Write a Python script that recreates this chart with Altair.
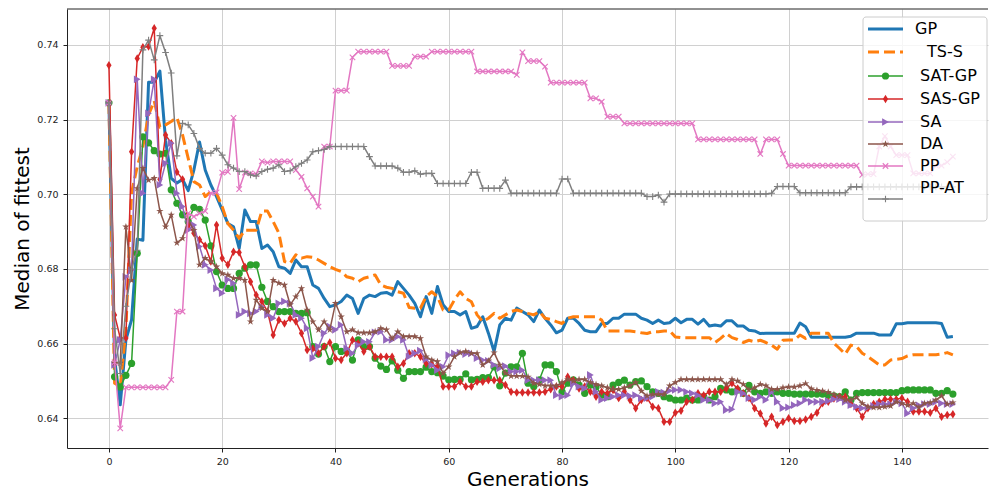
import math

import altair as alt
import pandas as pd

# ---------------------------------------------------------------------------
# Median fitness of the best individual per generation, one list per method
# ---------------------------------------------------------------------------
generations = list(range(150))
series_names = ["GP", "TS-S", "SAT-GP", "SAS-GP", "SA", "DA", "PP", "PP-AT"]

gp = [
    0.7245, 0.6560, 0.6436, 0.6610, 0.6664, 0.6880, 0.6877, 0.7300, 0.7300, 0.7330,
    0.7145, 0.7043, 0.7030, 0.7040, 0.7010, 0.7065, 0.7140, 0.7065, 0.7025, 0.6994,
    0.6958, 0.6922, 0.6913, 0.6855, 0.6958, 0.6927, 0.6927, 0.6855, 0.6864, 0.6846,
    0.6806, 0.6802, 0.6788, 0.6824, 0.6806, 0.6806, 0.6757, 0.6748, 0.6721, 0.6699,
    0.6704, 0.6713, 0.6730, 0.6721, 0.6681, 0.6721, 0.6730, 0.6726, 0.6735, 0.6737,
    0.6730, 0.6766, 0.6748, 0.6730, 0.6708, 0.6672, 0.6726, 0.6681, 0.6753, 0.6704,
    0.6686, 0.6686, 0.6677, 0.6686, 0.6641, 0.6646, 0.6672, 0.6628, 0.6579, 0.6650,
    0.6668, 0.6663, 0.6695, 0.6686, 0.6677, 0.6659, 0.6690, 0.6668, 0.6650, 0.6629,
    0.6636, 0.6668, 0.6668, 0.6654, 0.6636, 0.6632, 0.6632, 0.6654, 0.6654, 0.6668,
    0.6668, 0.6679, 0.6679, 0.6679, 0.6668, 0.6663, 0.6654, 0.6663, 0.6654, 0.6656,
    0.6668, 0.6656, 0.6665, 0.6665, 0.6652, 0.6665, 0.6647, 0.6650, 0.6647, 0.6661,
    0.6661, 0.6647, 0.6647, 0.6636, 0.6634, 0.6627, 0.6628, 0.6628, 0.6628, 0.6628,
    0.6628, 0.6628, 0.6655, 0.6645, 0.6617, 0.6617, 0.6617, 0.6617, 0.6617, 0.6617,
    0.6617, 0.6620, 0.6628, 0.6628, 0.6628, 0.6628, 0.6623, 0.6623, 0.6623, 0.6653,
    0.6653, 0.6656, 0.6656, 0.6656, 0.6656, 0.6656, 0.6656, 0.6654, 0.6617, 0.6619,
]

ts_s = [
    0.7245, 0.6494, 0.6485, 0.6640, 0.7004, 0.7074, 0.7128, 0.7213, 0.7250, 0.7180,
    0.7186, 0.7195, 0.7206, 0.7159, 0.7096, 0.7034, 0.7025, 0.6994, 0.7007, 0.7003,
    0.6967, 0.6922, 0.6904, 0.6882, 0.6904, 0.6904, 0.6904, 0.6955, 0.6955, 0.6927,
    0.6896, 0.6820, 0.6815, 0.6838, 0.6829, 0.6833, 0.6831, 0.6824, 0.6815, 0.6806,
    0.6799, 0.6793, 0.6779, 0.6775, 0.6766, 0.6775, 0.6779, 0.6784, 0.6757, 0.6751,
    0.6748, 0.6739, 0.6735, 0.6697, 0.6695, 0.6695, 0.6726, 0.6739, 0.6726, 0.6690,
    0.6690, 0.6717, 0.6739, 0.6721, 0.6712, 0.6677, 0.6659, 0.6668, 0.6681, 0.6668,
    0.6677, 0.6686, 0.6690, 0.6686, 0.6681, 0.6677, 0.6686, 0.6668, 0.6665, 0.6659,
    0.6654, 0.6668, 0.6672, 0.6672, 0.6672, 0.6672, 0.6672, 0.6663, 0.6634, 0.6634,
    0.6634, 0.6634, 0.6634, 0.6632, 0.6629, 0.6627, 0.6632, 0.6632, 0.6634, 0.6634,
    0.6618, 0.6616, 0.6616, 0.6616, 0.6616, 0.6616, 0.6616, 0.6603, 0.6614, 0.6627,
    0.6616, 0.6611, 0.6603, 0.6609, 0.6605, 0.6609, 0.6603, 0.6596, 0.6585, 0.6609,
    0.6610, 0.6610, 0.6623, 0.6614, 0.6628, 0.6628, 0.6628, 0.6628, 0.6601, 0.6587,
    0.6572, 0.6596, 0.6592, 0.6574, 0.6565, 0.6554, 0.6543, 0.6543, 0.6556, 0.6558,
    0.6560, 0.6567, 0.6570, 0.6570, 0.6570, 0.6570, 0.6570, 0.6572, 0.6576, 0.6570,
]

sat_gp = [
    0.7245, 0.6511, 0.6484, 0.6515, 0.6547, 0.6842, 0.7154, 0.7138, 0.7117, 0.7108,
    0.7110, 0.7012, 0.6976, 0.6945, 0.6927, 0.6965, 0.6960, 0.6931, 0.6862, 0.6793,
    0.6757, 0.6748, 0.6748, 0.6788, 0.6802, 0.6811, 0.6811, 0.6751, 0.6713, 0.6699,
    0.6686, 0.6686, 0.6686, 0.6681, 0.6681, 0.6683, 0.6592, 0.6572, 0.6592, 0.6552,
    0.6592, 0.6579, 0.6579, 0.6556, 0.6610, 0.6592, 0.6592, 0.6561, 0.6540, 0.6531,
    0.6554, 0.6529, 0.6507, 0.6525, 0.6525, 0.6525, 0.6537, 0.6525, 0.6522, 0.6513,
    0.6503, 0.6504, 0.6504, 0.6519, 0.6503, 0.6504, 0.6509, 0.6509, 0.6538, 0.6487,
    0.6521, 0.6538, 0.6538, 0.6574, 0.6494, 0.6485, 0.6503, 0.6543, 0.6543, 0.6525,
    0.6471, 0.6494, 0.6503, 0.6489, 0.6467, 0.6489, 0.6485, 0.6462, 0.6458, 0.6489,
    0.6496, 0.6502, 0.6489, 0.6498, 0.6500, 0.6485, 0.6471, 0.6467, 0.6458, 0.6454,
    0.6449, 0.6449, 0.6454, 0.6449, 0.6449, 0.6458, 0.6449, 0.6458, 0.6480, 0.6476,
    0.6471, 0.6476, 0.6467, 0.6488, 0.6471, 0.6467, 0.6471, 0.6467, 0.6471, 0.6467,
    0.6467, 0.6465, 0.6465, 0.6465, 0.6465, 0.6465, 0.6465, 0.6462, 0.6460, 0.6458,
    0.6471, 0.6449, 0.6467, 0.6469, 0.6469, 0.6469, 0.6469, 0.6469, 0.6469, 0.6469,
    0.6474, 0.6476, 0.6476, 0.6476, 0.6476, 0.6476, 0.6467, 0.6467, 0.6474, 0.6465,
]

sas_gp = [
    0.7346, 0.6677, 0.6615, 0.6615, 0.7114, 0.7364, 0.7394, 0.7396, 0.7445, 0.7040,
    0.7159, 0.7137, 0.7060, 0.7040, 0.6918, 0.6896, 0.6878, 0.6862, 0.6820, 0.6918,
    0.6829, 0.6811, 0.6846, 0.6844, 0.6806, 0.6766, 0.6730, 0.6713, 0.6686, 0.6623,
    0.6663, 0.6654, 0.6668, 0.6659, 0.6628, 0.6583, 0.6587, 0.6574, 0.6592, 0.6603,
    0.6561, 0.6556, 0.6574, 0.6610, 0.6601, 0.6579, 0.6592, 0.6565, 0.6565, 0.6565,
    0.6565, 0.6538, 0.6547, 0.6574, 0.6574, 0.6565, 0.6547, 0.6545, 0.6538, 0.6485,
    0.6485, 0.6485, 0.6498, 0.6485, 0.6485, 0.6498, 0.6498, 0.6502, 0.6502, 0.6502,
    0.6489, 0.6471, 0.6469, 0.6469, 0.6469, 0.6469, 0.6469, 0.6471, 0.6478, 0.6485,
    0.6485, 0.6511, 0.6502, 0.6480, 0.6485, 0.6471, 0.6458, 0.6471, 0.6467, 0.6476,
    0.6454, 0.6471, 0.6449, 0.6427, 0.6449, 0.6454, 0.6431, 0.6427, 0.6391, 0.6391,
    0.6415, 0.6420, 0.6444, 0.6449, 0.6467, 0.6462, 0.6471, 0.6471, 0.6471, 0.6480,
    0.6494, 0.6480, 0.6467, 0.6454, 0.6427, 0.6413, 0.6386, 0.6404, 0.6382, 0.6391,
    0.6400, 0.6393, 0.6393, 0.6397, 0.6404, 0.6415, 0.6440, 0.6444, 0.6453, 0.6458,
    0.6458, 0.6438, 0.6427, 0.6404, 0.6427, 0.6438, 0.6444, 0.6451, 0.6451, 0.6451,
    0.6454, 0.6444, 0.6418, 0.6418, 0.6418, 0.6415, 0.6427, 0.6404, 0.6409, 0.6411,
]

sa = [
    0.7245, 0.6543, 0.6610, 0.6779, 0.6797, 0.7308, 0.7003, 0.7217, 0.7308, 0.7025,
    0.7083, 0.7137, 0.7003, 0.6967, 0.6904, 0.6918, 0.6860, 0.6811, 0.6797, 0.6748,
    0.6735, 0.6772, 0.6762, 0.6677, 0.6686, 0.6681, 0.6686, 0.6699, 0.6677, 0.6668,
    0.6708, 0.6713, 0.6708, 0.6677, 0.6668, 0.6641, 0.6561, 0.6592, 0.6628, 0.6646,
    0.6637, 0.6650, 0.6587, 0.6574, 0.6596, 0.6605, 0.6605, 0.6630, 0.6632, 0.6610,
    0.6610, 0.6619, 0.6610, 0.6565, 0.6574, 0.6581, 0.6558, 0.6543, 0.6529, 0.6538,
    0.6569, 0.6574, 0.6576, 0.6572, 0.6574, 0.6561, 0.6556, 0.6554, 0.6543, 0.6534,
    0.6540, 0.6525, 0.6525, 0.6529, 0.6502, 0.6502, 0.6502, 0.6502, 0.6502, 0.6462,
    0.6458, 0.6462, 0.6493, 0.6485, 0.6480, 0.6516, 0.6471, 0.6449, 0.6454, 0.6458,
    0.6462, 0.6462, 0.6460, 0.6462, 0.6454, 0.6454, 0.6458, 0.6471, 0.6469, 0.6474,
    0.6476, 0.6476, 0.6471, 0.6467, 0.6462, 0.6449, 0.6449, 0.6440, 0.6444, 0.6422,
    0.6424, 0.6471, 0.6467, 0.6454, 0.6449, 0.6458, 0.6449, 0.6471, 0.6444, 0.6427,
    0.6429, 0.6435, 0.6440, 0.6449, 0.6444, 0.6444, 0.6444, 0.6446, 0.6451, 0.6451,
    0.6444, 0.6435, 0.6431, 0.6427, 0.6429, 0.6433, 0.6438, 0.6438, 0.6438, 0.6444,
    0.6440, 0.6413, 0.6427, 0.6435, 0.6438, 0.6438, 0.6444, 0.6440, 0.6438, 0.6438,
]

da = [
    0.7245, 0.6548, 0.6548, 0.6913, 0.6770, 0.7016, 0.7070, 0.7038, 0.7043, 0.6955,
    0.6913, 0.6945, 0.6870, 0.6882, 0.6931, 0.6904, 0.6811, 0.6829, 0.6820, 0.6806,
    0.6788, 0.6784, 0.6775, 0.6775, 0.6770, 0.6659, 0.6717, 0.6695, 0.6686, 0.6770,
    0.6762, 0.6757, 0.6704, 0.6726, 0.6748, 0.6690, 0.6659, 0.6637, 0.6659, 0.6637,
    0.6708, 0.6672, 0.6632, 0.6637, 0.6629, 0.6629, 0.6629, 0.6632, 0.6641, 0.6637,
    0.6614, 0.6632, 0.6619, 0.6619, 0.6619, 0.6614, 0.6565, 0.6556, 0.6552, 0.6521,
    0.6538, 0.6565, 0.6576, 0.6579, 0.6574, 0.6574, 0.6543, 0.6554, 0.6576, 0.6543,
    0.6521, 0.6513, 0.6513, 0.6513, 0.6511, 0.6494, 0.6491, 0.6487, 0.6487, 0.6487,
    0.6496, 0.6504, 0.6500, 0.6504, 0.6504, 0.6496, 0.6491, 0.6487, 0.6482, 0.6478,
    0.6478, 0.6482, 0.6487, 0.6496, 0.6473, 0.6460, 0.6464, 0.6464, 0.6464, 0.6487,
    0.6496, 0.6504, 0.6504, 0.6504, 0.6504, 0.6504, 0.6504, 0.6504, 0.6504, 0.6491,
    0.6504, 0.6500, 0.6491, 0.6476, 0.6482, 0.6491, 0.6487, 0.6478, 0.6478, 0.6482,
    0.6484, 0.6484, 0.6487, 0.6493, 0.6479, 0.6475, 0.6473, 0.6470, 0.6464, 0.6458,
    0.6449, 0.6449, 0.6456, 0.6440, 0.6431, 0.6429, 0.6429, 0.6431, 0.6433, 0.6444,
    0.6440, 0.6435, 0.6440, 0.6429, 0.6440, 0.6442, 0.6449, 0.6460, 0.6438, 0.6442,
]

pp = [
    0.7245, 0.6550, 0.6373, 0.6483, 0.6483, 0.6483, 0.6483, 0.6483, 0.6483, 0.6483,
    0.6483, 0.6503, 0.6686, 0.6686, 0.6949, 0.6940, 0.6949, 0.6955, 0.7003, 0.7005,
    0.7058, 0.7060, 0.7205, 0.7014, 0.7058, 0.7056, 0.7054, 0.7088, 0.7085, 0.7088,
    0.7088, 0.7088, 0.7088, 0.7065, 0.7047, 0.7016, 0.6994, 0.6967, 0.7128, 0.7128,
    0.7278, 0.7278, 0.7278, 0.7367, 0.7382, 0.7382, 0.7382, 0.7382, 0.7382, 0.7382,
    0.7344, 0.7344, 0.7344, 0.7344, 0.7369, 0.7369, 0.7369, 0.7382, 0.7382, 0.7382,
    0.7382, 0.7382, 0.7382, 0.7382, 0.7382, 0.7329, 0.7329, 0.7329, 0.7329, 0.7329,
    0.7329, 0.7329, 0.7320, 0.7380, 0.7357, 0.7357, 0.7357, 0.7342, 0.7299, 0.7299,
    0.7299, 0.7299, 0.7299, 0.7299, 0.7299, 0.7257, 0.7257, 0.7248, 0.7208, 0.7208,
    0.7208, 0.7190, 0.7190, 0.7190, 0.7190, 0.7190, 0.7190, 0.7190, 0.7190, 0.7190,
    0.7190, 0.7190, 0.7190, 0.7190, 0.7147, 0.7147, 0.7147, 0.7147, 0.7147, 0.7147,
    0.7147, 0.7147, 0.7147, 0.7147, 0.7147, 0.7108, 0.7147, 0.7147, 0.7147, 0.7108,
    0.7077, 0.7077, 0.7077, 0.7077, 0.7077, 0.7077, 0.7077, 0.7077, 0.7077, 0.7077,
    0.7077, 0.7077, 0.7077, 0.7052, 0.7054, 0.7054, 0.7128, 0.7156, 0.7128, 0.7105,
    0.7105, 0.7105, 0.7056, 0.7056, 0.7056, 0.7056, 0.7077, 0.7077, 0.7086, 0.7101,
]

pp_at = [
    0.7245, 0.6640, 0.6520, 0.6700, 0.6800, 0.6850, 0.7387, 0.7413, 0.7360, 0.7425,
    0.7380, 0.7325, 0.7103, 0.7190, 0.7186, 0.7163, 0.7123, 0.7110, 0.7110, 0.7123,
    0.7105, 0.7079, 0.7070, 0.7061, 0.7061, 0.7052, 0.7049, 0.7061, 0.7067, 0.7070,
    0.7079, 0.7061, 0.7063, 0.7074, 0.7083, 0.7092, 0.7114, 0.7117, 0.7120, 0.7128,
    0.7128, 0.7128, 0.7128, 0.7128, 0.7128, 0.7128, 0.7101, 0.7076, 0.7076, 0.7076,
    0.7076, 0.7070, 0.7059, 0.7059, 0.7063, 0.7054, 0.7056, 0.7056, 0.7029, 0.7029,
    0.7029, 0.7029, 0.7029, 0.7029, 0.7059, 0.7059, 0.7016, 0.7016, 0.7016, 0.7016,
    0.7038, 0.7003, 0.7003, 0.7003, 0.7003, 0.7003, 0.7003, 0.7003, 0.7003, 0.7003,
    0.7041, 0.7041, 0.7003, 0.7003, 0.7003, 0.7003, 0.7003, 0.7003, 0.7003, 0.7003,
    0.7003, 0.7003, 0.7003, 0.7003, 0.7003, 0.6994, 0.6994, 0.6998, 0.6979, 0.7001,
    0.7001, 0.7001, 0.7001, 0.7001, 0.7001, 0.7001, 0.7001, 0.7001, 0.7001, 0.7001,
    0.7001, 0.7001, 0.7001, 0.7001, 0.7001, 0.7001, 0.7001, 0.7003, 0.7021, 0.7021,
    0.7021, 0.7021, 0.7004, 0.7004, 0.7004, 0.7004, 0.7004, 0.7004, 0.7004, 0.7004,
    0.7004, 0.7020, 0.7020, 0.7020, 0.7020, 0.7020, 0.7020, 0.7020, 0.7020, 0.7020,
    0.7020, 0.7020, 0.7020, 0.7020, 0.7020, 0.7020, 0.7020, 0.7020, 0.7020, 0.7020,
]

x_ticks = [0, 20, 40, 60, 80, 100, 120, 140]
y_ticks = [0.64, 0.66, 0.68, 0.70, 0.72, 0.74]

series_values = {
    "GP": gp, "TS-S": ts_s, "SAT-GP": sat_gp, "SAS-GP": sas_gp,
    "SA": sa, "DA": da, "PP": pp, "PP-AT": pp_at,
}

df = pd.DataFrame(
    [
        {"series": name, "generation": g, "fitness": v}
        for name in series_names
        for g, v in zip(generations, series_values[name])
    ]
)

# ---------------------------------------------------------------------------
# Marker glyphs (unit-square SVG paths)
# ---------------------------------------------------------------------------
def star_path(points=5, inner=0.38):
    verts = []
    for k in range(2 * points):
        r = 1.0 if k % 2 == 0 else inner
        a = math.pi / 2 + k * math.pi / points
        verts.append(f"{r * math.cos(a):.3f},{-r * math.sin(a):.3f}")
    return "M" + "L".join(verts) + "Z"


THIN_DIAMOND = "M0,-1L0.62,0L0,1L-0.62,0Z"
X_MARK = "M-1,-1L1,1M-1,1L1,-1"
PLUS_MARK = "M-1,0L1,0M0,-1L0,1"

styles = {
    "GP":     dict(color="#1f77b4", width=3.0, dash=None, shape=None),
    "TS-S":   dict(color="#ff7f0e", width=3.0, dash=[11, 5], shape=None),
    "SAT-GP": dict(color="#2ca02c", width=1.5, dash=None, shape="circle", size=52, filled=True),
    "SAS-GP": dict(color="#d62728", width=1.5, dash=None, shape=THIN_DIAMOND, size=72, filled=True),
    "SA":     dict(color="#9467bd", width=1.5, dash=None, shape="triangle-right", size=60, filled=True),
    "DA":     dict(color="#8c564b", width=1.5, dash=None, shape=star_path(), size=60, filled=True),
    "PP":     dict(color="#e377c2", width=1.5, dash=None, shape=X_MARK, size=30, filled=False),
    "PP-AT":  dict(color="#7f7f7f", width=1.5, dash=None, shape=PLUS_MARK, size=45, filled=False),
}

# ---------------------------------------------------------------------------
# Plot geometry
# ---------------------------------------------------------------------------
PAD_L, PAD_T, PAD_R, PAD_B = 67, 9, 1, 45
W, H = 921, 439
X_DOMAIN = [-7.4, 155.2]
Y_DOMAIN = [0.63204, 0.74964]
FONT = "DejaVu Sans"

x_enc = alt.X(
    "generation:Q",
    scale=alt.Scale(domain=X_DOMAIN, nice=False, zero=False),
    axis=alt.Axis(values=x_ticks, format="d", title="Generations"),
)
y_enc = alt.Y(
    "fitness:Q",
    scale=alt.Scale(domain=Y_DOMAIN, nice=False, zero=False),
    axis=alt.Axis(values=y_ticks, format=".2f", title="Median of fittest"),
)


def line_mark(st):
    kw = dict(color=st["color"], strokeWidth=st["width"], strokeJoin="round")
    if st["dash"]:
        kw["strokeDash"] = st["dash"]
        kw["strokeCap"] = "butt"
    return kw


def point_mark(st):
    if st["filled"]:
        return dict(shape=st["shape"], size=st["size"], filled=True,
                    fill=st["color"], opacity=1, strokeWidth=0)
    return dict(shape=st["shape"], size=st["size"], filled=False,
                stroke=st["color"], strokeWidth=1.1, opacity=1)


layers = []
for name in series_names:
    st = styles[name]
    sub = df[df["series"] == name]
    base = alt.Chart(sub).encode(x=x_enc, y=y_enc)
    layers.append(base.mark_line(**line_mark(st)))
    if st["shape"]:
        layers.append(base.mark_point(**point_mark(st)))

# top spine
one = pd.DataFrame({"k": [0]})
layers.append(
    alt.Chart(one).mark_rule(color="#222222", strokeWidth=1).encode(
        x=alt.value(0), x2=alt.value(W), y=alt.value(0)
    )
)

# ---------------------------------------------------------------------------
# Legend box (upper right)
# ---------------------------------------------------------------------------
LEG_BOX = (863, 17, 987, 221)          # absolute page pixels
LEG_ROWS = [29, 52, 76, 99, 122, 144, 166, 188]
LEG_SYM_ROWS = [29, 52, 76, 99, 122, 144, 166, 199]
LEG_TEXT_X = [915, 927, 920, 920, 920, 920, 920, 920]
LEG_LINE = (868, 903)


def px(x):
    return x - PAD_L


def py(y):
    return y - PAD_T


layers.append(
    alt.Chart(one).mark_rect(
        fill="white", fillOpacity=0.8, stroke="#cccccc", strokeWidth=1, cornerRadius=3
    ).encode(
        x=alt.value(px(LEG_BOX[0])), x2=alt.value(px(LEG_BOX[2])),
        y=alt.value(py(LEG_BOX[1])), y2=alt.value(py(LEG_BOX[3])),
    )
)

for i, name in enumerate(series_names):
    st = styles[name]
    ys = py(LEG_SYM_ROWS[i])
    rule_kw = dict(color=st["color"], strokeWidth=st["width"])
    if st["dash"]:
        rule_kw["strokeDash"] = st["dash"]
    layers.append(
        alt.Chart(one).mark_rule(**rule_kw).encode(
            x=alt.value(px(LEG_LINE[0])), x2=alt.value(px(LEG_LINE[1])), y=alt.value(ys)
        )
    )
    if st["shape"]:
        layers.append(
            alt.Chart(one).mark_point(**point_mark(st)).encode(
                x=alt.value(px((LEG_LINE[0] + LEG_LINE[1]) / 2)), y=alt.value(ys)
            )
        )
    layers.append(
        alt.Chart(one).mark_text(
            text=name, font=FONT, fontSize=16, color="black",
            align="left", baseline="middle",
        ).encode(x=alt.value(px(LEG_TEXT_X[i])), y=alt.value(py(LEG_ROWS[i])))
    )

chart = (
    alt.layer(*layers)
    .properties(
        width=W,
        height=H,
        autosize=alt.AutoSizeParams(type="none"),
        padding={"left": PAD_L, "top": PAD_T, "right": PAD_R, "bottom": PAD_B},
        background="white",
    )
    .configure_view(strokeWidth=0)
    .configure_axis(
        labelFont=FONT,
        labelFontSize=9.5,
        labelColor="#222222",
        titleFont=FONT,
        titleFontSize=20,
        titleFontWeight="normal",
        titleColor="black",
        domainColor="#222222",
        domainWidth=1,
        tickColor="#222222",
        tickSize=4,
        gridColor="#d0d0d0",
        gridWidth=1,
    )
    .configure_axisY(labelPadding=5, titlePadding=4)
    .configure_axisX(labelPadding=4, titlePadding=4)
)

chart.save("out.html", embed_options={"renderer": "svg", "actions": False})
